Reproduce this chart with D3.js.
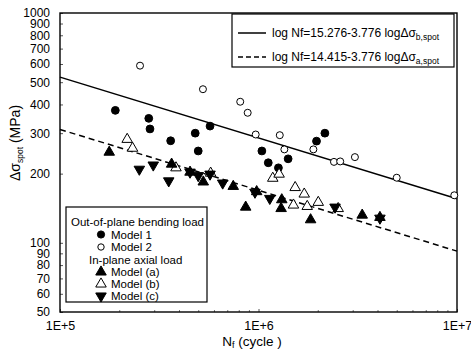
<!DOCTYPE html>
<html>
<head>
<meta charset="utf-8">
<script src="https://cdn.jsdelivr.net/npm/d3@7"></script>
<style>
  body { margin: 0; background: #fff; }
  svg { font-family: "Liberation Sans", Arial, sans-serif; }
</style>
</head>
<body>
<div id="chart"></div>
<script>
// Values: [Nf (cycle), stress (MPa)]
const model1 = [
    [1.90e5, 377], [2.80e5, 348], [2.84e5, 313], [3.61e5, 278], [4.80e5, 300],
    [5.70e5, 322], [4.97e5, 251], [1.04e6, 251], [1.12e6, 223], [1.26e6, 212],
    [1.41e6, 232], [1.96e6, 277], [2.16e6, 300]
];
const model2 = [
    [2.53e5, 590], [5.25e5, 466], [8.09e5, 411], [8.82e5, 368], [9.68e5, 296],
    [1.28e6, 294], [1.35e6, 255], [1.89e6, 255], [2.40e6, 225], [2.58e6, 226],
    [3.06e6, 236], [4.97e6, 192], [9.69e6, 161]
];
const modelA = [
    [1.77e5, 248], [3.65e5, 220], [4.52e5, 203], [5.27e5, 184], [7.46e5, 176],
    [8.62e5, 143], [9.79e5, 167], [1.30e6, 141], [1.31e6, 154], [1.83e6, 126],
    [3.33e6, 132], [4.09e6, 129]
];
const modelB = [
    [2.18e5, 282], [2.32e5, 258], [3.84e5, 212], [5.74e5, 201], [1.18e6, 191],
    [1.27e6, 199], [1.53e6, 174], [1.70e6, 163], [2.00e6, 150], [1.76e6, 144],
    [1.50e6, 146], [2.52e6, 141]
];
const modelC = [
    [2.51e5, 209], [2.95e5, 218], [3.53e5, 186], [4.52e5, 203], [4.97e5, 196],
    [5.70e5, 199], [6.60e5, 182], [9.60e5, 166], [1.14e6, 156], [2.43e6, 143],
    [4.09e6, 128]
];

// fitted lines (end points)
const fitB = [[1e5, 526], [1e7, 155.5]];
const fitA = [[1e5, 311.5], [1e7, 92]];

const yTicks = [50, 60, 70, 80, 90, 100, 200, 300, 400, 500, 600, 700, 800, 900, 1000];
const xTicks = [1e5, 1e6, 1e7];
const xMinor = [2e5, 3e5, 4e5, 5e5, 6e5, 7e5, 8e5, 9e5, 2e6, 3e6, 4e6, 5e6, 6e6, 7e6, 8e6, 9e6];

const W = 471, H = 355;
const plotL = 60, plotR = 457, plotT = 13, plotB = 312;

const svg = d3.select("#chart").append("svg")
    .attr("width", W)
    .attr("height", H);

const x = d3.scaleLog().domain([1e5, 1e7]).range([plotL, plotR]);
const y = d3.scaleLog().domain([50, 1000]).range([plotB, plotT]);

// Axes
const yAxis = svg.append("g")
    .attr("transform", `translate(${plotL},0)`)
    .call(d3.axisLeft(y).tickValues(yTicks).tickFormat(d3.format("d")).tickSize(-3).tickPadding(10));
yAxis.select(".domain").remove();
yAxis.selectAll("text").attr("font-size", "12px").attr("fill", "#000").attr("x", -10);
yAxis.selectAll("line").attr("stroke", "#555");

const xAxis = svg.append("g")
    .attr("transform", `translate(0,${plotB})`)
    .call(d3.axisBottom(x).tickValues(xTicks).tickFormat(d => "1E+" + Math.round(Math.log10(d))).tickSize(-3).tickPadding(9));
xAxis.select(".domain").remove();
xAxis.selectAll("text").attr("font-size", "12.5px").attr("fill", "#000");
xAxis.selectAll("line").attr("stroke", "#555");

svg.append("g")
    .selectAll("line")
    .data(xMinor)
    .enter()
    .append("line")
    .attr("x1", d => x(d))
    .attr("x2", d => x(d))
    .attr("y1", plotB)
    .attr("y2", plotB - 2)
    .attr("stroke", "#777");

// Frame
svg.append("rect")
    .attr("x", plotL)
    .attr("y", plotT)
    .attr("width", plotR - plotL)
    .attr("height", plotB - plotT)
    .attr("fill", "none")
    .attr("stroke", "#000")
    .attr("stroke-width", 1.4);

// Fit lines
const line = d3.line().x(d => x(d[0])).y(d => y(d[1]));
svg.append("path")
    .datum(fitB)
    .attr("d", line)
    .attr("fill", "none")
    .attr("stroke", "#000")
    .attr("stroke-width", 1.5);
svg.append("path")
    .datum(fitA)
    .attr("d", line)
    .attr("fill", "none")
    .attr("stroke", "#000")
    .attr("stroke-width", 1.5)
    .attr("stroke-dasharray", "6,4");

// Markers
const triUp = d3.symbol().type(d3.symbolTriangle).size(48);
function drawTriangles(data, filled, down) {
    svg.append("g")
        .selectAll("path")
        .data(data)
        .enter()
        .append("path")
        .attr("d", triUp)
        .attr("transform", d => `translate(${x(d[0])},${y(d[1])})` + (down ? " rotate(180)" : ""))
        .attr("fill", filled ? "#000" : "#fff")
        .attr("stroke", "#000")
        .attr("stroke-width", 1);
}
function drawCircles(data, filled) {
    svg.append("g")
        .selectAll("circle")
        .data(data)
        .enter()
        .append("circle")
        .attr("cx", d => x(d[0]))
        .attr("cy", d => y(d[1]))
        .attr("r", filled ? 3.9 : 3.5)
        .attr("fill", filled ? "#000" : "#fff")
        .attr("stroke", "#000")
        .attr("stroke-width", 1);
}
drawCircles(model2, false);
drawCircles(model1, true);
drawTriangles(modelB, false, false);
drawTriangles(modelA, true, false);
drawTriangles(modelC, true, true);

// Top-right legend
const lg = svg.append("g");
lg.append("rect")
    .attr("x", 232).attr("y", 14)
    .attr("width", 222).attr("height", 53)
    .attr("fill", "#fff").attr("stroke", "#000").attr("stroke-width", 1.2);
lg.append("line")
    .attr("x1", 238).attr("x2", 266).attr("y1", 33).attr("y2", 33)
    .attr("stroke", "#000").attr("stroke-width", 1.5);
lg.append("line")
    .attr("x1", 238).attr("x2", 266).attr("y1", 57).attr("y2", 57)
    .attr("stroke", "#000").attr("stroke-width", 1.5).attr("stroke-dasharray", "5,3");

function eqText(yPos, eq, sub) {
    const t = lg.append("text")
        .attr("x", 272).attr("y", yPos)
        .attr("font-size", "12px").attr("fill", "#000");
    t.append("tspan").text(eq);
    t.append("tspan").attr("font-size", "8.5px").attr("dy", 3).text(sub);
}
eqText(37, "log Nf=15.276-3.776 log\u0394\u03c3", "b,spot");
eqText(61, "log Nf=14.415-3.776 log\u0394\u03c3", "a,spot");

// Bottom-left legend
const lb = svg.append("g");
lb.append("rect")
    .attr("x", 66).attr("y", 207)
    .attr("width", 141).attr("height", 95)
    .attr("fill", "#fff").attr("stroke", "#000").attr("stroke-width", 1.2);

const legendRows = [
    { label: "Out-of-plane bending load", y: 222, x: 71 },
    { label: "Model 1", y: 234.5, marker: "fc" },
    { label: "Model 2", y: 247, marker: "oc" },
    { label: "In-plane axial load", y: 259.5, x: 89 },
    { label: "Model (a)", y: 272, marker: "ft" },
    { label: "Model (b)", y: 284, marker: "ot" },
    { label: "Model (c)", y: 296, marker: "fd" }
];
legendRows.forEach(r => {
    if (r.marker) {
        const mx = 101;
        if (r.marker === "fc" || r.marker === "oc") {
            lb.append("circle")
                .attr("cx", mx).attr("cy", r.y)
                .attr("r", r.marker === "fc" ? 3.6 : 3.2)
                .attr("fill", r.marker === "fc" ? "#000" : "#fff")
                .attr("stroke", "#000");
        } else {
            lb.append("path")
                .attr("d", triUp)
                .attr("transform", `translate(${mx},${r.y})` + (r.marker === "fd" ? " rotate(180)" : ""))
                .attr("fill", r.marker === "ot" ? "#fff" : "#000")
                .attr("stroke", "#000");
        }
        lb.append("text")
            .attr("x", 111).attr("y", r.y + 4)
            .attr("font-size", "11.5px").attr("fill", "#000")
            .text(r.label);
    } else {
        lb.append("text")
            .attr("x", r.x).attr("y", r.y + 4)
            .attr("font-size", "11.5px").attr("fill", "#000")
            .text(r.label);
    }
});

// Axis titles
const yt = svg.append("text")
    .attr("transform", "translate(20,143) rotate(-90)")
    .attr("text-anchor", "middle")
    .attr("font-size", "14px")
    .attr("fill", "#000");
yt.append("tspan").text("\u0394\u03c3");
yt.append("tspan").attr("font-size", "8.5px").attr("dy", 3).text("spot");
yt.append("tspan").attr("dy", -3).text(" (MPa)");

const xt = svg.append("text")
    .attr("x", 252).attr("y", 346)
    .attr("text-anchor", "middle")
    .attr("font-size", "13.5px")
    .attr("fill", "#000");
xt.append("tspan").text("N");
xt.append("tspan").attr("font-size", "9px").attr("dy", 2).text("f");
xt.append("tspan").attr("dy", -2).text(" (cycle )");
</script>
</body>
</html>
